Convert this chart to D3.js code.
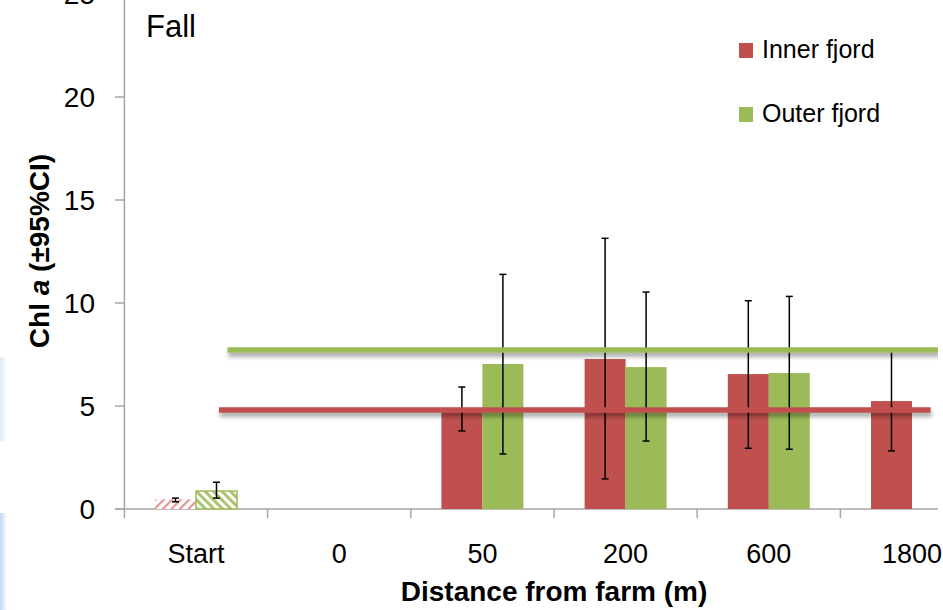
<!DOCTYPE html>
<html>
<head>
<meta charset="utf-8">
<script src="https://cdn.jsdelivr.net/npm/d3@7.9.0/dist/d3.min.js"></script>
<style>
  body { margin: 0; background: #fff; }
  svg { display: block; font-family: "Liberation Sans", Arial, sans-serif; }
</style>
</head>
<body>
<svg id="chart" width="943" height="610"></svg>
<script>
// data
const categories = ['Start', '0', '50', '200', '600', '1800'];
const series = ['Inner fjord', 'Outer fjord'];
const innerMean = [0.47, null, 4.85, 7.28, 6.55, 5.24];
const outerMean = [0.87, null, 7.04, 6.89, 6.60, null];
const innerLow = [0.35, null, 3.79, 1.46, 2.95, 2.82];
const innerHigh = [0.53, null, 5.92, 13.14, 10.11, 7.72];
const outerLow = [0.53, null, 2.67, 3.30, 2.90, null];
const outerHigh = [1.30, null, 11.39, 10.53, 10.32, null];
const yTicks = [0, 5, 10, 15, 20, 25];
// reference levels (value, start and end in category units)
const refLevels = [
  { name: 'Outer fjord', value: 7.72, from: 0.72, to: 5.69 },
  { name: 'Inner fjord', value: 4.80, from: 0.66, to: 5.63 }
];

const colors = d3.scaleOrdinal().domain(series).range(['#C0504D', '#9BBB59']);

const svg = d3.select('#chart');
const left = 124.4, right = 983.6, clipRight = 938;

let x0 = d3.scaleBand().domain(categories).range([left, right]);
let x1 = d3.scaleBand().domain(series).range([30.6, 112.6]);
let xPos = d3.scaleLinear().domain([0, categories.length]).range([left, right]);
let y = d3.scaleLinear().domain([0, 25]).range([509, -6]);

let defs = svg.append('defs');
defs.append('clipPath').attr('id', 'plot')
  .append('rect').attr('x', 0).attr('y', -20).attr('width', clipRight).attr('height', 640);

// horizontal lines have a zero-height bbox, so the filter region is in user space
let shadow = defs.append('filter').attr('id', 'shadow')
  .attr('filterUnits', 'userSpaceOnUse')
  .attr('x', 0).attr('y', 0).attr('width', 943).attr('height', 610);
shadow.append('feDropShadow').attr('dx', 1).attr('dy', 4)
  .attr('stdDeviation', 2.2).attr('flood-color', '#000').attr('flood-opacity', 0.35);

// hatched patterns for the "Start" bars
let redHatch = defs.append('pattern').attr('id', 'hatchRed')
  .attr('patternUnits', 'userSpaceOnUse').attr('width', 6).attr('height', 6)
  .attr('patternTransform', 'rotate(45)');
redHatch.append('rect').attr('width', 6).attr('height', 6).attr('fill', '#fff');
redHatch.append('rect').attr('width', 2.2).attr('height', 6).attr('fill', '#E79593');

let greenHatch = defs.append('pattern').attr('id', 'hatchGreen')
  .attr('patternUnits', 'userSpaceOnUse').attr('width', 6).attr('height', 6)
  .attr('patternTransform', 'rotate(-45)');
greenHatch.append('rect').attr('width', 6).attr('height', 6).attr('fill', '#fff');
greenHatch.append('rect').attr('width', 3).attr('height', 6).attr('fill', '#A9C66E');

let glow = defs.append('linearGradient').attr('id', 'glow');
glow.append('stop').attr('offset', '0%').attr('stop-color', '#bcd9f0');
glow.append('stop').attr('offset', '100%').attr('stop-color', '#ffffff');

svg.append('rect').attr('width', 943).attr('height', 610).attr('fill', '#fff');

// faint blue slide edge on the left
svg.append('rect').attr('x', 0).attr('y', 357).attr('width', 7).attr('height', 84)
  .attr('fill', 'url(#glow)').attr('opacity', 0.5);
svg.append('rect').attr('x', 0).attr('y', 513).attr('width', 7).attr('height', 97)
  .attr('fill', 'url(#glow)');

let plot = svg.append('g').attr('clip-path', 'url(#plot)');

// axes
const axisColor = '#A6A6A6';
plot.append('line').attr('x1', 115).attr('x2', right).attr('y1', y(0)).attr('y2', y(0))
  .attr('stroke', axisColor).attr('stroke-width', 1.5);
plot.append('line').attr('x1', left).attr('x2', left).attr('y1', y(25)).attr('y2', y(0) + 9)
  .attr('stroke', axisColor).attr('stroke-width', 1.5);

yTicks.forEach((t) => {
  svg.append('line').attr('x1', 115).attr('x2', left).attr('y1', y(t)).attr('y2', y(t))
    .attr('stroke', axisColor).attr('stroke-width', 1.5);
  svg.append('text').attr('x', 95).attr('y', y(t)).attr('dy', '0.35em')
    .attr('text-anchor', 'end').attr('font-size', 28).attr('fill', '#000').text(t);
});

d3.range(1, categories.length).forEach((i) => {
  plot.append('line').attr('x1', xPos(i)).attr('x2', xPos(i))
    .attr('y1', y(0)).attr('y2', y(0) + 9)
    .attr('stroke', axisColor).attr('stroke-width', 1.5);
});

categories.forEach((c) => {
  svg.append('text').attr('x', x0(c) + x0.bandwidth() / 2).attr('y', 563)
    .attr('text-anchor', 'middle').attr('font-size', 27).attr('fill', '#000').text(c);
});

// bars
let barData = [];
categories.forEach((c, i) => {
  barData.push({ cat: c, s: series[0], v: innerMean[i], lo: innerLow[i], hi: innerHigh[i], i });
  barData.push({ cat: c, s: series[1], v: outerMean[i], lo: outerLow[i], hi: outerHigh[i], i });
});
barData = barData.filter((d) => d.v !== null);

plot.selectAll('rect.bar').data(barData).join('rect')
  .attr('class', 'bar')
  .attr('x', (d) => x0(d.cat) + x1(d.s))
  .attr('width', x1.bandwidth())
  .attr('y', (d) => y(d.v))
  .attr('height', (d) => y(0) - y(d.v))
  .attr('fill', (d) => d.i === 0 ? (d.s === series[0] ? 'url(#hatchRed)' : 'url(#hatchGreen)') : colors(d.s))
  .attr('stroke', (d) => d.i === 0 && d.s === series[1] ? '#9BBB59' : 'none')
  .attr('stroke-width', 1.5);

// error bars
let err = plot.selectAll('g.err').data(barData).join('g').attr('class', 'err')
  .attr('transform', (d) => `translate(${x0(d.cat) + x1(d.s) + x1.bandwidth() / 2},0)`)
  .attr('stroke', '#000').attr('stroke-width', 1.5);
err.append('line').attr('y1', (d) => y(d.lo)).attr('y2', (d) => y(d.hi));
err.append('line').attr('x1', -3.5).attr('x2', 3.5).attr('y1', (d) => y(d.lo)).attr('y2', (d) => y(d.lo));
err.append('line').attr('x1', -3.5).attr('x2', 3.5).attr('y1', (d) => y(d.hi)).attr('y2', (d) => y(d.hi));

// reference levels
plot.selectAll('line.ref').data(refLevels).join('line')
  .attr('class', 'ref')
  .attr('x1', (d) => xPos(d.from)).attr('x2', (d) => xPos(d.to))
  .attr('y1', (d) => y(d.value)).attr('y2', (d) => y(d.value))
  .attr('stroke', (d) => colors(d.name)).attr('stroke-width', 5.5)
  .attr('filter', 'url(#shadow)');

// legend
let legend = svg.append('g');
series.forEach((s, i) => {
  let g = legend.append('g').attr('transform', `translate(739,${43 + i * 64})`);
  g.append('rect').attr('width', 14).attr('height', 15).attr('fill', colors(s));
  g.append('text').attr('x', 23).attr('y', 15).attr('font-size', 25).attr('fill', '#000').text(s);
});

// titles
svg.append('text').attr('x', 146).attr('y', 37).attr('font-size', 31).attr('fill', '#000').text('Fall');

svg.append('text').attr('x', 554).attr('y', 601).attr('text-anchor', 'middle')
  .attr('font-size', 28).attr('font-weight', 'bold').attr('fill', '#000')
  .text('Distance from farm (m)');

let yTitle = svg.append('text').attr('transform', 'translate(49,251) rotate(-90)')
  .attr('text-anchor', 'middle').attr('font-size', 28).attr('font-weight', 'bold').attr('fill', '#000');
yTitle.append('tspan').text('Chl ');
yTitle.append('tspan').attr('font-style', 'italic').text('a');
yTitle.append('tspan').text(' (±95%CI)');
</script>
</body>
</html>
